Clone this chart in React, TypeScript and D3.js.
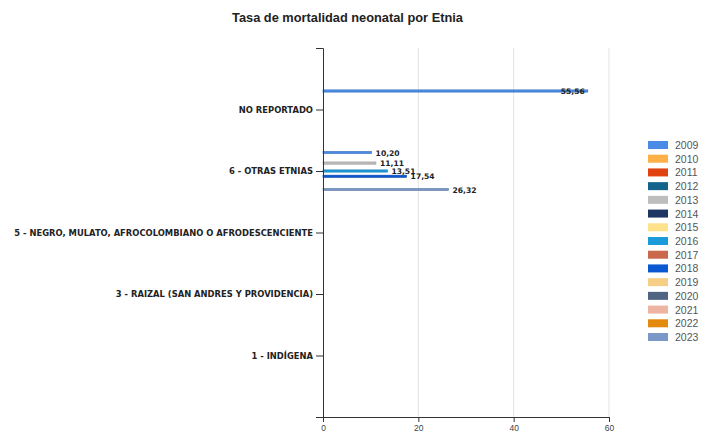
import React, { useEffect, useRef } from "react";
import * as d3 from "d3";

const categories = [
  "NO REPORTADO",
  "6 - OTRAS ETNIAS",
  "5 - NEGRO, MULATO, AFROCOLOMBIANO O AFRODESCENCIENTE",
  "3 - RAIZAL (SAN ANDRES Y PROVIDENCIA)",
  "1 - INDÍGENA",
];
const years = ["2009","2010","2011","2012","2013","2014","2015","2016","2017","2018","2019","2020","2021","2022","2023"];
const colors = ["#4A8BE6","#FDB046","#E0430F","#13638C","#BDBDBD","#1C3563","#FDE18B","#1C9BDA","#C9684A","#0B57D2","#F6CF86","#4F6383","#EFB3A1","#E2890E","#7A99C9"];
// values[year] = [category values], null = no data
const values: Record<string, (number | null)[]> = {
  "2009": [55.56, 10.2, null, null, null],
  "2013": [null, 11.11, null, null, null],
  "2016": [null, 13.51, null, null, null],
  "2018": [null, 17.54, null, null, null],
  "2023": [null, 26.32, null, null, null],
};
const xTicks = [0, 20, 40, 60];
const title = "Tasa de mortalidad neonatal por Etnia";

export default function App() {
  const ref = useRef<SVGSVGElement>(null);
  useEffect(() => {
    const svg = d3.select(ref.current!);
    svg.selectAll("*").remove();
    const left = 323, right = 609, top = 48, bottom = 417;
    const x = d3.scaleLinear().domain([0, 60]).range([left, right]);
    const y = d3.scalePoint<string>().domain(categories).range([top, bottom]).padding(1);
    const inner = d3.scalePoint<string>().domain(years).range([-18.5, 18.5]);
    const slot = 37 / 14;

    svg.append("text").attr("x", 347.5).attr("y", 22).attr("text-anchor", "middle")
      .style("font-family", "Liberation Sans, Arial, sans-serif").style("font-weight", "bold")
      .style("font-size", "12.8px").attr("fill", "#222").text(title);

    // grid
    svg.append("g").selectAll("line").data(xTicks.filter(t => t > 0)).join("line")
      .attr("x1", d => x(d)).attr("x2", d => x(d)).attr("y1", top).attr("y2", bottom)
      .attr("stroke", "#e3e3e3").attr("stroke-width", 1);

    // bars
    const g = svg.append("g");
    years.forEach((yr, i) => {
      const vals = values[yr];
      if (!vals) return;
      vals.forEach((v, ci) => {
        if (v == null) return;
        const cy = (y(categories[ci]) as number) + (inner(yr) as number);
        const c = d3.color(colors[i])!;
        g.append("rect").attr("x", x(0)).attr("y", cy - slot / 2 + 0.2)
          .attr("width", x(v) - x(0)).attr("height", slot - 0.4)
          .attr("fill", colors[i]).attr("stroke", c.darker(0.6).toString()).attr("stroke-width", 0.6);
        const label = d3.format(".2f")(v).replace(".", ",");
        const endX = x(v);
        const outside = endX + 4 + 24 <= right;
        g.append("text").attr("x", outside ? endX + 4 : endX - 3).attr("y", cy + 3)
          .attr("text-anchor", outside ? "start" : "end")
          .style("font-family", "DejaVu Sans, Verdana, sans-serif").style("font-weight", "bold")
          .style("font-size", "7.6px").attr("fill", "#222").text(label);
      });
    });

    // axes
    const yAxis = d3.axisLeft(y).tickSize(7).tickSizeOuter(7);
    const ya = svg.append("g").attr("transform", `translate(${left},0)`).call(yAxis as any);
    ya.select(".domain").attr("stroke", "#333");
    ya.selectAll(".tick line").attr("stroke", "#333");
    ya.selectAll(".tick text").style("font-family", "DejaVu Sans, Verdana, sans-serif")
      .style("font-weight", "bold").style("font-size", "8.4px").attr("fill", "#222").attr("dy", "0.35em").attr("x", -10);

    const xAxis = d3.axisBottom(x).tickValues(xTicks).tickSize(5).tickSizeOuter(0).tickFormat(d3.format("d") as any);
    const xa = svg.append("g").attr("transform", `translate(0,${bottom})`).call(xAxis as any);
    xa.select(".domain").attr("stroke", "#333");
    xa.selectAll(".tick line").attr("stroke", "#333");
    xa.selectAll(".tick text").style("font-family", "Liberation Sans, Arial, sans-serif")
      .style("font-size", "8.5px").attr("fill", "#444").attr("y", 8);

    // legend
    const lg = svg.append("g");
    const ly = d3.scalePoint<string>().domain(years).range([145, 337]);
    years.forEach((yr, i) => {
      const yy = ly(yr) as number;
      lg.append("rect").attr("x", 648).attr("y", yy - 4).attr("width", 20).attr("height", 8).attr("fill", colors[i]);
      lg.append("text").attr("x", 675).attr("y", yy + 4).style("font-family", "Liberation Sans, Arial, sans-serif")
        .style("font-size", "10.5px").attr("fill", "#555").text(yr);
    });
  }, []);
  return (
    <svg ref={ref} width={722} height={432} style={{ position: "absolute", left: 0, top: 0, background: "#fff" }} />
  );
}
